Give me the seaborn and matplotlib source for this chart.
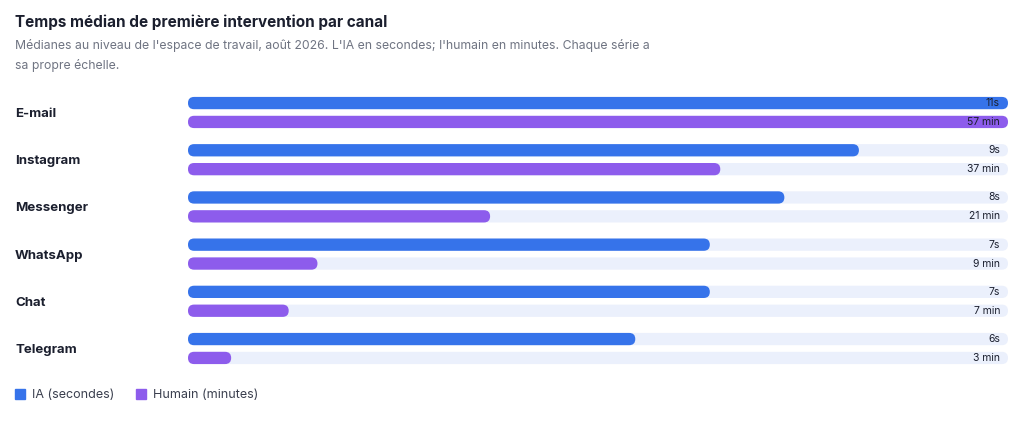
#! /usr/bin/env python3
import numpy as np
import matplotlib
matplotlib.use('Agg')
import matplotlib.pyplot as plt
from matplotlib.patches import FancyBboxPatch
from matplotlib.lines import Line2D
import matplotlib.transforms as mtransforms
import seaborn as sns

# data
channels = ['E-mail', 'Instagram', 'Messenger', 'WhatsApp', 'Chat', 'Telegram']
ia_seconds = [11, 9, 8, 7, 7, 6]
human_minutes = [57, 37, 21, 9, 7, 3]
ia_labels = [f'{v}s' for v in ia_seconds]
human_labels = [f'{v} min' for v in human_minutes]

BLUE = '#3673EA'
PURPLE = '#8D5CEC'
TRACK = '#EBF0FC'
DARK = '#1B1F2E'
GREY = '#6F7482'

sns.set_style('white')
plt.rcParams['font.family'] = ['Inter', 'DejaVu Sans']

W, H = 1024, 425
fig = plt.figure(figsize=(W / 100, H / 100), dpi=100)
fig.patch.set_facecolor('white')

# axes geometry (pixels)
left_px, right_px = 188, 1008
top_px, bot_px = 88.9, 372.1
rect = [left_px / W, 1 - bot_px / H, (right_px - left_px) / W, (bot_px - top_px) / H]
ax_ia = fig.add_axes(rect)
ax_hu = fig.add_axes(rect)
ax_hu.patch.set_alpha(0)

pos = np.arange(len(channels))
off = 0.2
bar_h = 0.26

# IA series on its own scale
sns.barplot(x=[max(ia_seconds)] * len(pos), y=pos - off, orient='h', native_scale=True,
            width=bar_h, color=TRACK, saturation=1, errorbar=None, ax=ax_ia)
sns.barplot(x=ia_seconds, y=pos - off, orient='h', native_scale=True,
            width=bar_h, color=BLUE, saturation=1, errorbar=None, ax=ax_ia)
# human series on its own scale
sns.barplot(x=[max(human_minutes)] * len(pos), y=pos + off, orient='h', native_scale=True,
            width=bar_h, color=TRACK, saturation=1, errorbar=None, ax=ax_hu)
sns.barplot(x=human_minutes, y=pos + off, orient='h', native_scale=True,
            width=bar_h, color=PURPLE, saturation=1, errorbar=None, ax=ax_hu)

ax_ia.set_xlim(0, max(ia_seconds))
ax_hu.set_xlim(0, max(human_minutes))
for ax in (ax_ia, ax_hu):
    ax.set_ylim(len(channels) - 0.5, -0.5)
    ax.axis('off')

# round the bar ends
ypx = (bot_px - top_px) / len(channels)
for ax, vmax in ((ax_ia, max(ia_seconds)), (ax_hu, max(human_minutes))):
    xpx = (right_px - left_px) / vmax
    for p in list(ax.patches):
        x0, y0 = p.get_x(), p.get_y()
        w, h = p.get_width(), p.get_height()
        r_y = abs(h) / 2
        r_x = r_y * ypx / xpx
        fb = FancyBboxPatch((x0, min(y0, y0 + h)), w, abs(h),
                            boxstyle=f'round,pad=0,rounding_size={r_x}',
                            mutation_aspect=r_y / r_x,
                            facecolor=p.get_facecolor(), edgecolor='none',
                            zorder=p.get_zorder())
        p.remove()
        ax.add_patch(fb)

# value labels at the right end, channel names on the left (top axes)
lab_tr = mtransforms.blended_transform_factory(fig.transFigure, ax_hu.transData)
for i in range(len(channels)):
    ax_hu.text(1000 / W, pos[i] - off, ia_labels[i], transform=lab_tr, ha='right',
               va='center', fontsize=7.5, color=DARK, zorder=10)
    ax_hu.text(1000 / W, pos[i] + off, human_labels[i], transform=lab_tr, ha='right',
               va='center', fontsize=7.5, color=DARK, zorder=10)
    ax_hu.text(15 / W, pos[i] + 0.03, channels[i], transform=lab_tr, ha='left',
               va='center', fontsize=9.5, fontweight='bold', color=DARK, zorder=10)

# title and subtitle
fig.text(15 / W, 1 - 22 / H, 'Temps médian de première intervention par canal',
         fontsize=11, fontweight='bold', color=DARK, va='center')
fig.text(15 / W, 1 - 45 / H,
         "Médianes au niveau de l'espace de travail, août 2026. L'IA en secondes; "
         "l'humain en minutes. Chaque série a",
         fontsize=8.8, color=GREY, va='center')
fig.text(15 / W, 1 - 65 / H, 'sa propre échelle.', fontsize=8.8, color=GREY, va='center')

# legend
handles = [Line2D([], [], marker='s', linestyle='none', markersize=6.5, color=BLUE),
           Line2D([], [], marker='s', linestyle='none', markersize=6.5, color=PURPLE)]
fig.legend(handles, ['IA (secondes)', 'Humain (minutes)'], loc='center left',
           bbox_to_anchor=(4 / W, 1 - 395 / H), ncol=2, frameon=False,
           handlelength=0.8, handletextpad=0.5, columnspacing=1.8,
           fontsize=9, labelcolor='#3A3F4E')

fig.savefig('out.png', dpi=100)
